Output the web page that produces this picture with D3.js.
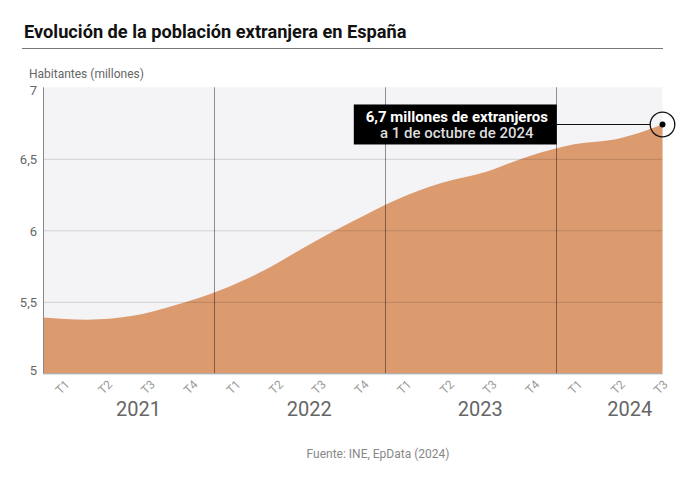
<!DOCTYPE html>
<html><head><meta charset="utf-8">
<script src="https://cdn.jsdelivr.net/npm/d3@7"></script>
<style>
body{margin:0;background:#fff;}
svg{display:block;font-family:Roboto, "Noto Sans", sans-serif;}
</style>
</head><body>
<svg id="chart" width="690" height="489"></svg>
<script>
// ---- data ----
const years = ["2021", "2022", "2023", "2024"];
const quarterLabels = ["T1","T2","T3","T4","T1","T2","T3","T4","T1","T2","T3","T4","T1","T2","T3"];
const quarterYears = ["2021","2021","2021","2021","2022","2022","2022","2022","2023","2023","2023","2023","2024","2024","2024"];
const values = [5.39, 5.375, 5.40, 5.478, 5.581, 5.72, 5.898, 6.063, 6.216, 6.33, 6.408, 6.52, 6.602, 6.641, 6.74];
const yTicks = [5, 5.5, 6, 6.5, 7];
const titleText = "Evolución de la población extranjera en España";
const yAxisTitle = "Habitantes (millones)";
const sourceText = "Fuente: INE, EpData (2024)";
const noteLines = ["6,7 millones de extranjeros", "a 1 de octubre de 2024"];

// ---- layout ----
const svg = d3.select("#chart");
const L = 43, R = 662.5, T = 87.3, B = 373.3;
const keys = quarterLabels.map((q, i) => quarterYears[i] + "-" + q);
const data = keys.map((k, i) => ({key: k, q: quarterLabels[i], year: quarterYears[i], v: values[i]}));

const x = d3.scalePoint().domain(keys).range([L, R]);
const bw = (R - L) / (keys.length - 0.5);
const xb = d3.scaleBand().domain(keys).range([L, L + keys.length * bw]).padding(0);
const y = d3.scaleLinear().domain([5, 7]).range([B, T]);
const loc = d3.formatLocale({decimal: ",", thousands: ".", grouping: [3], currency: ["", "€"]});
const fmt = loc.format("~g");

// title
svg.append("text").attr("x", 24).attr("y", 37.5)
  .attr("font-size", 18.2).attr("font-weight", 700).attr("fill", "#111")
  .text(titleText);
svg.append("line").attr("x1", 22).attr("x2", 663).attr("y1", 48.5).attr("y2", 48.5)
  .attr("stroke", "#777").attr("stroke-width", 1);

// y title
svg.append("text").attr("x", 29).attr("y", 78)
  .attr("font-size", 12).attr("fill", "#666").text(yAxisTitle);

// plot background
svg.append("rect").attr("x", L).attr("y", T).attr("width", R - L).attr("height", B - T)
  .attr("fill", "#f4f3f6");

// area
const area = d3.area().x(d => x(d.key)).y0(y(5)).y1(d => y(d.v)).curve(d3.curveMonotoneX);
svg.append("path").datum(data).attr("d", area).attr("fill", "#dc9b6f");

// horizontal gridlines
svg.append("g").selectAll("line").data(yTicks.filter(t => t > 5 && t < 7)).join("line")
  .attr("x1", L).attr("x2", R).attr("y1", d => y(d) + 0.5).attr("y2", d => y(d) + 0.5)
  .attr("stroke", "rgba(0,0,0,0.15)");

// year separators
svg.append("g").selectAll("line").data(years.slice(1)).join("line")
  .attr("x1", d => Math.round(xb(d + "-T1")) + 0.5).attr("x2", d => Math.round(xb(d + "-T1")) + 0.5)
  .attr("y1", T).attr("y2", B)
  .attr("stroke", "rgba(0,0,0,0.42)");

// axes lines
svg.append("line").attr("x1", L + 0.5).attr("x2", L + 0.5).attr("y1", T).attr("y2", B)
  .attr("stroke", "#888");
svg.append("line").attr("x1", L).attr("x2", R).attr("y1", B + 0.5).attr("y2", B + 0.5)
  .attr("stroke", "#999");

// y tick labels (end labels nudged inward, as in the reference)
svg.append("g").selectAll("text").data(yTicks).join("text")
  .attr("x", 37).attr("y", d => y(d) + (d === 7 ? 3 : d === 5 ? -3 : 1))
  .attr("dy", "0.35em")
  .attr("text-anchor", "end").attr("font-size", 13).attr("fill", "#666")
  .text(d => fmt(d));

// x quarter labels
svg.append("g").selectAll("text").data(data).join("text")
  .attr("transform", d => `translate(${xb(d.key) + xb.bandwidth() / 2 + 3},${B + 9}) rotate(-45)`)
  .attr("text-anchor", "end").attr("dy", "0.35em")
  .attr("font-size", 12).attr("fill", "#999")
  .text(d => d.q);

// year labels
svg.append("g").selectAll("text").data(years).join("text")
  .attr("x", yr => {
    const ks = keys.filter((k, i) => quarterYears[i] === yr);
    return d3.mean(ks, k => xb(k) + xb.bandwidth() / 2) + 10;
  })
  .attr("y", 416).attr("text-anchor", "middle")
  .attr("font-size", 20).attr("fill", "#666")
  .text(d => d);

// source
svg.append("text").attr("x", 378).attr("y", 458).attr("text-anchor", "middle")
  .attr("font-size", 12).attr("fill", "#888").text(sourceText);

// annotation
const last = data[data.length - 1];
const cx = x(last.key), cy = y(last.v);
const boxW = 203, boxH = 40, boxRight = cx - 105.7;
svg.append("line").attr("x1", boxRight).attr("x2", cx - 12.3).attr("y1", cy).attr("y2", cy)
  .attr("stroke", "#111").attr("stroke-width", 1.2);
svg.append("rect").attr("x", boxRight - boxW).attr("y", cy - boxH / 2).attr("width", boxW).attr("height", boxH)
  .attr("fill", "#000");
svg.append("text").attr("x", boxRight - boxW / 2 + 1.5).attr("y", cy - 2.6)
  .attr("text-anchor", "middle").attr("font-size", 15).attr("font-weight", 700).attr("fill", "#fff")
  .text(noteLines[0]);
svg.append("text").attr("x", boxRight - boxW / 2 + 1.5).attr("y", cy + 14)
  .attr("text-anchor", "middle").attr("font-size", 15).attr("font-weight", 500).attr("fill", "#ddd")
  .text(noteLines[1]);
svg.append("circle").attr("cx", cx).attr("cy", cy).attr("r", 12.3)
  .attr("fill", "none").attr("stroke", "#111").attr("stroke-width", 1.3);
svg.append("circle").attr("cx", cx).attr("cy", cy).attr("r", 3).attr("fill", "#000");
</script>
</body></html>
